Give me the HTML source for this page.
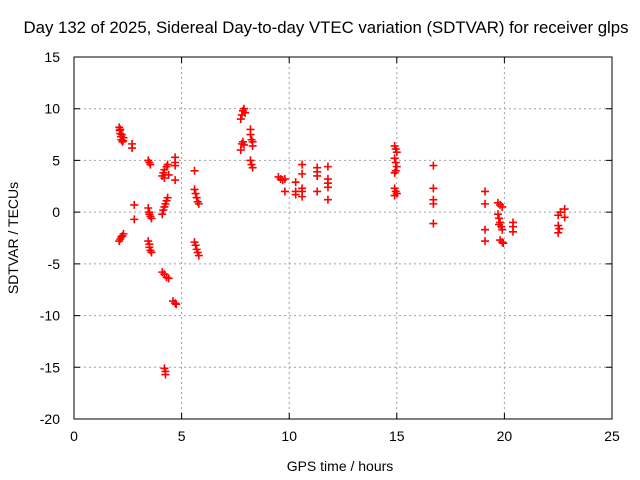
<!DOCTYPE html>
<html><head><meta charset="utf-8"><style>
body{margin:0;background:#fff;}
svg{display:block;font-family:"Liberation Sans",sans-serif;}
</style></head><body>
<svg id="chart" width="640" height="480">
<text x="326" y="33" font-size="16.8" text-anchor="middle">Day 132 of 2025, Sidereal Day-to-day VTEC variation (SDTVAR) for receiver glps</text>
<text x="340" y="471" font-size="14" text-anchor="middle">GPS time / hours</text>
<text x="18" y="238" font-size="14" text-anchor="middle" transform="rotate(-90 18 238)">SDTVAR / TECUs</text>
<g id="grid"></g><g id="ticks"></g><g id="marks"></g>
<rect x="74" y="57" width="538" height="362" fill="none" stroke="#000" stroke-width="1"/>
</svg>
<script>
const xTicks=[0,5,10,15,20,25];
const yTicks=[15,10,5,0,-5,-10,-15,-20];
const xs=[2.10,2.12,2.15,2.18,2.2,2.25,2.3,2.15,2.22,2.28,2.7,2.7,2.1,2.15,2.2,2.25,2.3,2.8,2.8,
3.45,3.5,3.55,3.45,3.5,3.5,3.55,3.6,3.45,3.5,3.5,3.55,3.6,
4.1,4.15,4.2,4.3,4.35,4.2,4.4,4.1,4.15,4.2,4.25,4.3,4.35,4.1,4.2,4.3,4.4,4.6,4.7,4.75,4.2,4.25,4.25,
4.7,4.7,4.7,4.7,5.6,5.6,5.65,5.7,5.75,5.8,5.6,5.65,5.7,5.75,5.8,
7.75,7.8,7.85,7.9,7.95,7.8,7.85,7.9,7.75,8.2,8.2,8.25,8.3,8.3,8.2,8.25,8.3,
9.5,9.6,9.7,9.8,9.8,10.3,10.3,10.3,10.6,10.6,10.6,10.6,10.6,
11.3,11.3,11.3,11.3,11.8,11.8,11.8,11.8,11.8,
14.9,14.95,15.0,14.9,14.95,15.0,14.95,14.9,14.9,14.95,15.0,14.9,
16.7,16.7,16.7,16.7,16.7,19.1,19.1,19.1,19.1,
19.7,19.8,19.9,19.7,19.75,19.8,19.85,19.9,19.75,19.8,19.9,19.95,
20.4,20.4,20.4,22.5,22.6,22.8,22.8,22.5,22.55,22.5];
const ys=[8.2,7.9,7.6,7.3,7.0,6.8,7.2,8.0,7.5,6.9,6.6,6.2,-2.8,-2.6,-2.4,-2.3,-2.1,0.7,-0.7,
5.0,4.8,4.6,0.4,0,-0.2,-0.4,-0.6,-2.8,-3.1,-3.4,-3.7,-3.9,
3.5,3.8,4.1,4.4,4.6,3.3,3.6,-0.2,0.2,0.5,0.8,1.1,1.4,-5.8,-6.0,-6.3,-6.4,-8.6,-8.8,-8.9,-15.1,-15.4,-15.7,
5.3,4.8,4.5,3.1,4.0,2.2,1.8,1.4,1.0,0.8,-2.9,-3.2,-3.6,-3.9,-4.2,
9.0,9.4,9.8,10.0,9.6,6.6,6.8,6.5,6.0,8.0,7.5,7.0,6.8,6.4,5.0,4.6,4.3,
3.4,3.2,3.1,3.2,2.0,2.9,2.0,1.7,4.6,3.7,2.3,2.0,1.5,
4.3,3.9,3.5,2.0,4.4,3.2,2.8,2.4,1.2,
6.4,6.1,5.8,5.2,4.8,4.4,4.0,3.8,2.3,2.0,1.8,1.6,
4.5,2.3,1.2,0.8,-1.1,2.0,0.8,-1.7,-2.8,
0.9,0.7,0.5,-0.2,-0.6,-1.0,-1.4,-1.7,-1.2,-2.7,-2.9,-3.0,
-1.0,-1.4,-1.9,-0.3,0.0,0.3,-0.5,-1.3,-1.6,-2.0];
const X0=74,X1=612,Y0=419,Y1=57,xmin=0,xmax=25,ymin=-20,ymax=15;
function sx(v){return X0+(v-xmin)/(xmax-xmin)*(X1-X0);}
function sy(v){return Y0-(v-ymin)/(ymax-ymin)*(Y0-Y1);}
const NS="http://www.w3.org/2000/svg";
const grid=document.getElementById('grid'),ticks=document.getElementById('ticks'),marks=document.getElementById('marks');
function mk(tag,attrs,parent){const e=document.createElementNS(NS,tag);for(const k in attrs)e.setAttribute(k,attrs[k]);parent.appendChild(e);return e;}
xTicks.forEach(t=>{
  const x=sx(t);
  if(t>xmin&&t<xmax){const g=mk('line',{x1:x,x2:x,y1:Y1,y2:Y0,stroke:'#a0a0a0','stroke-dasharray':'2,3'},grid);
  
  }
  const tm=mk('path',{d:`M${x},${Y0}v-6M${x},${Y1}v6`,stroke:'#000'},ticks);
  
  
  const l=mk('text',{x:x,y:Y0+22,'font-size':14,'text-anchor':'middle'},ticks);l.textContent=t;
  
  
});
yTicks.forEach(t=>{
  const y=sy(t);
  if(t>ymin&&t<ymax){const g=mk('line',{x1:X0,x2:X1,y1:y,y2:y,stroke:'#a0a0a0','stroke-dasharray':'2,3'},grid);
  
  }
  const tm=mk('path',{d:`M${X0},${y}h6M${X1},${y}h-6`,stroke:'#000'},ticks);
  
  
  const l=mk('text',{x:X0-14,y:y+5,'font-size':14,'text-anchor':'end'},ticks);l.textContent=t;
  
  
});
for(let i=0;i<xs.length;i++){
  const x=sx(xs[i]),y=sy(ys[i]);
  const p=mk('path',{d:`M${x-4},${y}h8M${x},${y-4}v8`,stroke:'#ff0000','stroke-width':1.6},marks);
  
  
}
</script>
</body></html>
